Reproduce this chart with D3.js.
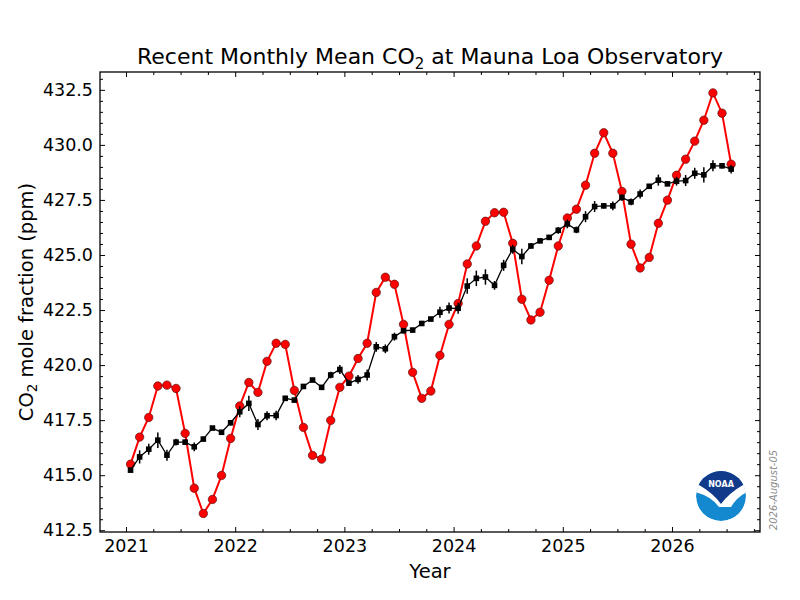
<!DOCTYPE html>
<html>
<head>
<meta charset="utf-8">
<script src="https://cdn.jsdelivr.net/npm/d3@7"></script>
<style>
body { margin: 0; background: #fff; }
svg { font-family: "DejaVu Sans", sans-serif; }
</style>
</head>
<body>
<svg id="chart" width="800" height="600"></svg>
<script>
// monthly values, Jan 2021 .. Jul 2026
var startYear = 2021;
var monthlyMean = [
    415.50, 416.73, 417.62, 419.05, 419.09, 418.94, 416.90, 414.41, 413.26, 413.90, 414.99, 416.67,
    418.14, 419.21, 418.76, 420.17, 420.99, 420.94, 418.85, 417.17, 415.90, 415.73, 417.49, 418.99,
    419.50, 420.30, 420.99, 423.30, 423.99, 423.67, 421.85, 419.67, 418.49, 418.82, 420.44, 421.85,
    422.80, 424.59, 425.41, 426.53, 426.92, 426.94, 425.53, 422.99, 422.05, 422.40, 423.85, 425.41,
    426.68, 427.08, 428.17, 429.62, 430.55, 429.62, 427.89, 425.49, 424.41, 424.89, 426.44, 427.49,
    428.62, 429.35, 430.17, 431.12, 432.36, 431.44, 429.12
];
var deseasonalized = [
    415.23, 415.83, 416.18, 416.59, 415.91, 416.50, 416.50, 416.29, 416.64, 417.14, 416.95, 417.38,
    417.88, 418.26, 417.30, 417.70, 417.71, 418.49, 418.41, 419.03, 419.32, 418.99, 419.55, 419.80,
    419.18, 419.35, 419.55, 420.83, 420.74, 421.29, 421.56, 421.59, 421.89, 422.09, 422.40, 422.59,
    422.58, 423.59, 423.94, 424.00, 423.62, 424.53, 425.26, 424.93, 425.41, 425.64, 425.80, 426.12,
    426.41, 426.14, 426.74, 427.20, 427.23, 427.23, 427.61, 427.41, 427.77, 428.12, 428.40, 428.23,
    428.35, 428.38, 428.71, 428.64, 429.05, 429.05, 428.90
];
var uncertainty = [
    0.10, 0.30, 0.25, 0.35, 0.25, 0.15, 0.12, 0.20, 0.10, 0.08, 0.10, 0.12,
    0.25, 0.35, 0.25, 0.20, 0.22, 0.12, 0.10, 0.10, 0.08, 0.10, 0.15, 0.20,
    0.12, 0.20, 0.25, 0.22, 0.20, 0.18, 0.12, 0.10, 0.10, 0.10, 0.25, 0.25,
    0.25, 0.35, 0.35, 0.35, 0.20, 0.25, 0.20, 0.35, 0.12, 0.10, 0.10, 0.15,
    0.20, 0.15, 0.25, 0.25, 0.12, 0.20, 0.15, 0.15, 0.20, 0.10, 0.25, 0.10,
    0.20, 0.25, 0.25, 0.35, 0.25, 0.12, 0.20
];
var yearTicks = [2021, 2022, 2023, 2024, 2025, 2026];
var ppmTicks = [412.5, 415.0, 417.5, 420.0, 422.5, 425.0, 427.5, 430.0, 432.5];
var xDomain = [2020.762, 2026.806];
var yDomain = [412.42, 433.31];
var dateStamp = "2026-August-05";

var plotLeft = 100, plotRight = 760, plotTop = 72, plotBottom = 532;

var svg = d3.select("#chart");

var x = d3.scaleLinear().domain(xDomain).range([plotLeft, plotRight]);
var y = d3.scaleLinear().domain(yDomain).range([plotBottom, plotTop]);

var minorX = d3.range(Math.ceil(xDomain[0] * 4), Math.floor(xDomain[1] * 4) + 1).map(function(d) { return d / 4; })
    .filter(function(d) { return d % 1 != 0; });
var minorY = d3.range(Math.ceil(yDomain[0] * 2), Math.floor(yDomain[1] * 2) + 1).map(function(d) { return d / 2; })
    .filter(function(d) { return ppmTicks.indexOf(d) < 0; });

var decYear = function(i) { return startYear + (i + 0.5) / 12; };

var points = monthlyMean.map(function(v, i) {
    return { t: decYear(i), mean: v, trend: deseasonalized[i], unc: uncertainty[i] };
});

// axes, ticks pointing inward on all four sides
var styleAxis = function(g) {
    g.select(".domain").remove();
    g.selectAll(".tick line").attr("stroke", "#000").attr("stroke-width", 1);
    g.selectAll(".tick text").attr("fill", "#000").style("font-size", "17.5px")
        .style("font-family", "DejaVu Sans, sans-serif");
};

svg.append("g").attr("transform", "translate(0," + plotBottom + ")")
    .call(d3.axisBottom(x).tickValues(yearTicks).tickFormat(d3.format("d")).tickSizeInner(-5).tickSizeOuter(0).tickPadding(8))
    .call(styleAxis);
svg.append("g").attr("transform", "translate(0," + plotBottom + ")")
    .call(d3.axisBottom(x).tickValues(minorX).tickFormat("").tickSizeInner(-3).tickSizeOuter(0))
    .call(styleAxis);
svg.append("g").attr("transform", "translate(0," + plotTop + ")")
    .call(d3.axisTop(x).tickValues(yearTicks).tickFormat("").tickSizeInner(-5).tickSizeOuter(0))
    .call(styleAxis);
svg.append("g").attr("transform", "translate(0," + plotTop + ")")
    .call(d3.axisTop(x).tickValues(minorX).tickFormat("").tickSizeInner(-3).tickSizeOuter(0))
    .call(styleAxis);

svg.append("g").attr("transform", "translate(" + plotLeft + ",0)")
    .call(d3.axisLeft(y).tickValues(ppmTicks).tickFormat(d3.format(".1f")).tickSizeInner(-5).tickSizeOuter(0).tickPadding(7))
    .call(styleAxis);
svg.append("g").attr("transform", "translate(" + plotLeft + ",0)")
    .call(d3.axisLeft(y).tickValues(minorY).tickFormat("").tickSizeInner(-3).tickSizeOuter(0))
    .call(styleAxis);
svg.append("g").attr("transform", "translate(" + plotRight + ",0)")
    .call(d3.axisRight(y).tickValues(ppmTicks).tickFormat("").tickSizeInner(-5).tickSizeOuter(0))
    .call(styleAxis);
svg.append("g").attr("transform", "translate(" + plotRight + ",0)")
    .call(d3.axisRight(y).tickValues(minorY).tickFormat("").tickSizeInner(-3).tickSizeOuter(0))
    .call(styleAxis);

svg.append("rect")
    .attr("x", plotLeft).attr("y", plotTop)
    .attr("width", plotRight - plotLeft).attr("height", plotBottom - plotTop)
    .attr("fill", "none").attr("stroke", "#000").attr("stroke-width", 1.3);

// monthly mean (red)
var meanLine = d3.line().x(function(d) { return x(d.t); }).y(function(d) { return y(d.mean); });
svg.append("path").datum(points)
    .attr("d", meanLine)
    .attr("fill", "none").attr("stroke", "#ff0000").attr("stroke-width", 2);
svg.append("g").selectAll("circle")
    .data(points).enter().append("circle")
    .attr("cx", function(d) { return x(d.t); })
    .attr("cy", function(d) { return y(d.mean); })
    .attr("r", 4.2)
    .attr("fill", "#ff0000").attr("stroke", "#5a1010").attr("stroke-width", 0.7);

// deseasonalized (black) with error bars
var trendLine = d3.line().x(function(d) { return x(d.t); }).y(function(d) { return y(d.trend); });
svg.append("path").datum(points)
    .attr("d", trendLine)
    .attr("fill", "none").attr("stroke", "#000").attr("stroke-width", 1.3);
svg.append("g").selectAll("line")
    .data(points).enter().append("line")
    .attr("x1", function(d) { return x(d.t); })
    .attr("x2", function(d) { return x(d.t); })
    .attr("y1", function(d) { return y(d.trend - d.unc); })
    .attr("y2", function(d) { return y(d.trend + d.unc); })
    .attr("stroke", "#000").attr("stroke-width", 1.5);
svg.append("g").selectAll("rect")
    .data(points).enter().append("rect")
    .attr("x", function(d) { return x(d.t) - 2.8; })
    .attr("y", function(d) { return y(d.trend) - 2.8; })
    .attr("width", 5.6).attr("height", 5.6)
    .attr("fill", "#000");

// title and labels
var title = svg.append("text")
    .attr("x", (plotLeft + plotRight) / 2).attr("y", 64)
    .attr("text-anchor", "middle")
    .style("font-size", "22px").attr("fill", "#000");
title.append("tspan").text("Recent Monthly Mean CO");
title.append("tspan").text("2").style("font-size", "15px").attr("dy", 5);
title.append("tspan").text(" at Mauna Loa Observatory").attr("dy", -5);

svg.append("text")
    .attr("x", (plotLeft + plotRight) / 2).attr("y", 578)
    .attr("text-anchor", "middle")
    .style("font-size", "19.5px").attr("fill", "#000")
    .text("Year");

var ylab = svg.append("text")
    .attr("transform", "translate(33," + ((plotTop + plotBottom) / 2) + ") rotate(-90)")
    .attr("text-anchor", "middle")
    .style("font-size", "19.5px").attr("fill", "#000");
ylab.append("tspan").text("CO");
ylab.append("tspan").text("2").style("font-size", "13.5px").attr("dy", 4);
ylab.append("tspan").text(" mole fraction (ppm)").attr("dy", -4);

svg.append("text")
    .attr("transform", "translate(777,490) rotate(-90)")
    .attr("text-anchor", "middle")
    .style("font-size", "10px").style("font-style", "italic")
    .attr("fill", "#8a8a8a")
    .text(dateStamp);

// NOAA logo
var logo = svg.append("g").attr("transform", "translate(721,496)");
svg.append("clipPath").attr("id", "logoClip")
    .append("circle").attr("cx", 0).attr("cy", 0).attr("r", 25);
var inner = logo.append("g").attr("clip-path", "url(#logoClip)");
inner.append("circle").attr("r", 25).attr("fill", "#1589cf");
inner.append("path")
    .attr("d", "M-26,-12 L26,-12 L26,-4 Q16,1 10,11 L-2,11 Q-10,0 -26,-4 Z")
    .attr("fill", "#fff");
inner.append("path")
    .attr("d", "M-26,-26 L26,-26 L26,-11 L22,-11 Q8,-3 0,8 Q-8,-3 -22,-11 L-26,-11 Z")
    .attr("fill", "#123a8a");
logo.append("text")
    .attr("x", 0).attr("y", -9)
    .attr("text-anchor", "middle")
    .style("font-size", "8px").style("font-weight", "bold")
    .attr("fill", "#fff")
    .text("NOAA");
</script>
</body>
</html>
